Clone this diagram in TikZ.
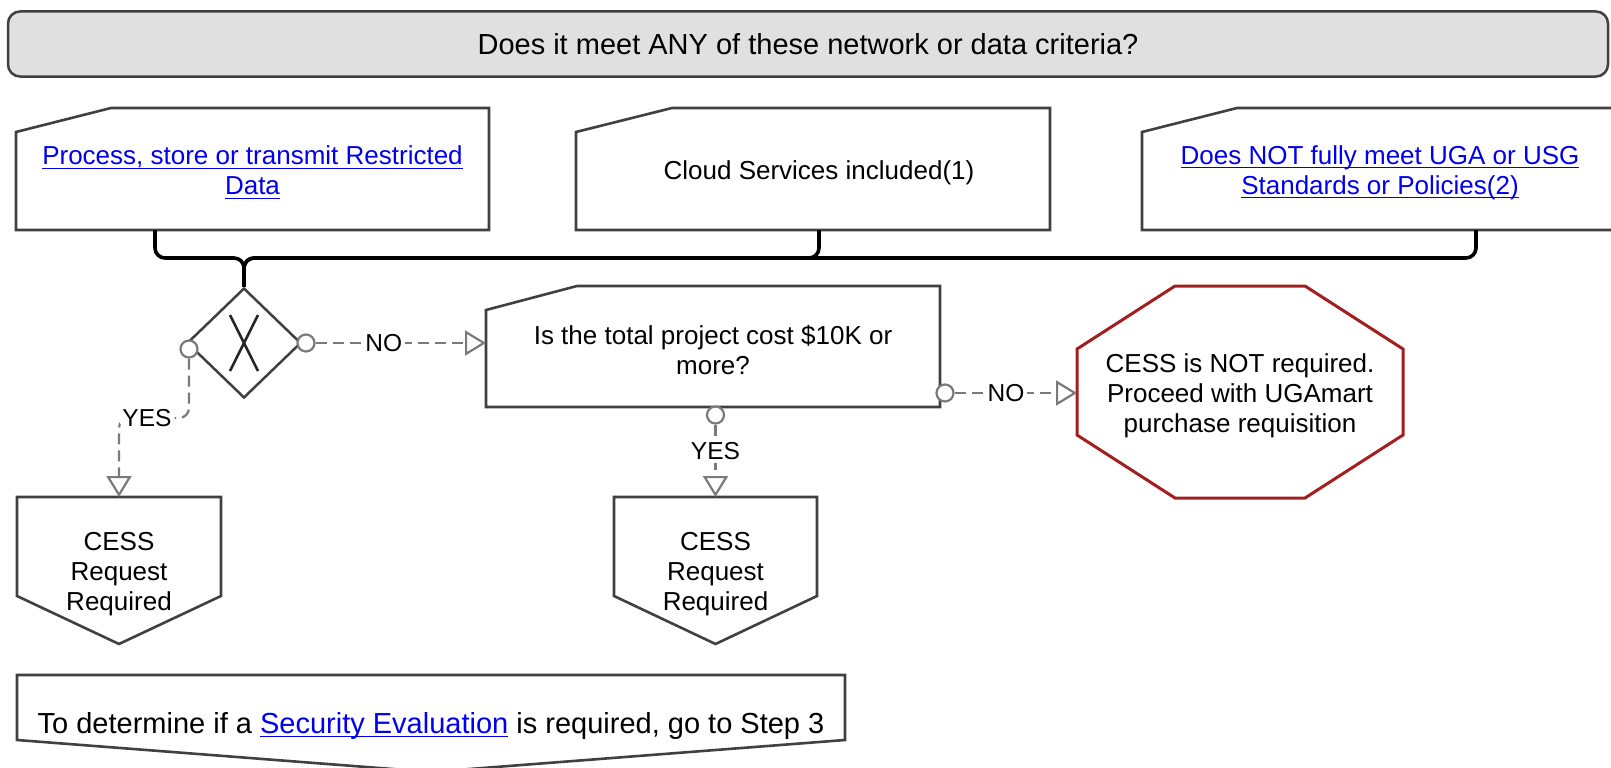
\documentclass[tikz,border=0pt]{standalone}
\usepackage{fontspec}
\setmainfont{Liberation Sans}
\usetikzlibrary{arrows.meta,shapes.geometric,calc}
\definecolor{bordergray}{HTML}{404040}
\definecolor{conngray}{HTML}{7A7A7A}
\definecolor{hdrgray}{HTML}{E0E0E0}
\definecolor{octred}{HTML}{A31F1F}
\definecolor{linkblue}{HTML}{0000EE}
\newcommand\myhdrfont{\fontsize{29}{34}\selectfont}
\newcommand\myboxfont{\fontsize{26}{30}\selectfont}
\newcommand\mylblfont{\fontsize{24.5}{28}\selectfont}
\newsavebox\lnkbox
\newcommand\lnk[1]{{\color{linkblue}\sbox\lnkbox{#1}\rlap{\rule[-4pt]{\wd\lnkbox}{1.3pt}}\usebox\lnkbox}}
\tikzset{
  boxline/.style={draw=bordergray, line width=2.6pt, line join=miter},
  txt/.style={rectangle, align=center, inner sep=0pt, outer sep=0pt, font=\myboxfont, text=black},
  tshift/.style={yshift=-3.5pt},
  hdrbox/.style={rectangle, rounded corners=12pt, draw=bordergray, fill=hdrgray, line width=2.5pt,
     minimum width=1600pt, minimum height=65pt, inner sep=0pt, font=\myhdrfont},
  bracket/.style={draw=black, line width=3.6pt, rounded corners=10pt},
  conn/.style={draw=conngray, line width=2.2pt, dash pattern=on 11pt off 6pt},
  tip/.style={-{Triangle[open, length=21pt, width=25pt]}},
  port/.style={circle, draw=conngray, fill=white, line width=2.2pt, minimum size=17pt, inner sep=0pt},
  lbl/.style={fill=white, font=\mylblfont, inner sep=3pt, text=black},
  gate/.style={diamond, draw=bordergray, line width=2.5pt, minimum width=114pt, minimum height=110pt, inner sep=0pt},
}
\begin{document}
\begin{tikzpicture}[x=1pt,y=-1pt]
\useasboundingbox (0,0) rectangle (1611,768);
\clip (0,0) rectangle (1611,768);

% header
\node[hdrbox] (hdr) at (808,44) {Does it meet ANY of these network or data criteria?};

% criteria boxes
\draw[boxline] (16,132) -- (111,108) -- (489,108) -- (489,230) -- (16,230) -- cycle;
\node[txt, minimum width=473pt, minimum height=122pt] (b1) at (252.5,169) {};
\node[txt, tshift] (b1t) at (b1.center)
  {\lnk{Process, store or transmit Restricted}\\\lnk{Data}};
\draw[boxline] (576,132) -- (672,108) -- (1050,108) -- (1050,230) -- (576,230) -- cycle;
\node[txt, minimum width=474pt, minimum height=122pt] (b2) at (813,169) {};
\node[txt, tshift] (b2t) at (819,169) {Cloud Services included(1)};
\draw[boxline] (1142,132) -- (1237,108) -- (1618,108) -- (1618,230) -- (1142,230) -- cycle;
\node[txt, minimum width=476pt, minimum height=122pt] (b3) at (1380,169) {};
\node[txt, tshift] (b3t) at (b3.center)
  {\lnk{Does NOT fully meet UGA or USG}\\\lnk{Standards or Policies(2)}};

% gateway
\node[gate] (dia) at (244,343) {};
\draw[draw=black!85, line width=2.5pt] ($(dia.center)+(-14,-28)$) -- ($(dia.center)+(14,28)$);
\draw[draw=black!85, line width=2.5pt] ($(dia.center)+(14,-28)$) -- ($(dia.center)+(-14,28)$);

% bracket
\coordinate (jn) at (244,258);
\draw[bracket] ([xshift=139pt]b1.south west) |- (jn) -- (dia.north);
\draw[bracket] (b2t.center |- b2.south) |- (jn) -- (dia.north);
\draw[bracket] ([xshift=334pt]b3.south west) |- (jn) -- (dia.north);

% cost question
\draw[boxline] (486,310) -- (577,286) -- (940,286) -- (940,407) -- (486,407) -- cycle;
\node[txt, minimum width=454pt, minimum height=121pt] (q) at (713,346.5) {};
\node[txt, tshift] (qt) at (q.center) {Is the total project cost \$10K or\\more?};

% stop octagon
\draw[draw=octred, line width=3pt, line join=miter] (1175,286) -- (1305,286) -- (1403,349) -- (1403,435)
  -- (1305,498) -- (1175,498) -- (1077,435) -- (1077,349) -- cycle;
\node[txt, minimum width=326pt, minimum height=212pt] (oct) at (1240,392) {};
\node[txt, tshift] (octt) at (oct.center)
  {CESS is NOT required.\\Proceed with UGAmart\\purchase requisition};

% CESS request boxes
\draw[boxline] (17,497) -- (221,497) -- (221,596) -- (119,644) -- (17,596) -- cycle;
\node[txt, minimum width=204pt, minimum height=147pt] (b4) at (119,570.5) {};
\node[txt, tshift] (b4t) at (b4.center) {CESS\\Request\\Required};
\draw[boxline] (614,497) -- (817,497) -- (817,596) -- (715.5,644) -- (614,596) -- cycle;
\node[txt, minimum width=203pt, minimum height=147pt] (b5) at (715.5,570.5) {};
\node[txt, tshift] (b5t) at (b5.center) {CESS\\Request\\Required};

% bottom box
\draw[boxline] (17,675) -- (845,675) -- (845,740) -- (431,772) -- (17,740) -- cycle;
\node[txt, tshift, font=\myhdrfont] (b6) at (431,722)
  {To determine if a \lnk{Security Evaluation} is required, go to Step 3};

% ports
\node[port] (p1) at (189,349) {};
\node[port] (p2) at (306,343) {};
\node[port] (p3) at (945,393) {};
\node[port] (p4) at (715.5,415) {};

% connectors
\coordinate (yl) at (119,418);
\draw[conn, tip, rounded corners=10pt] (p1) |- node[lbl, pos=0.8] {YES} (yl) -- (b4.north);
\draw[conn, tip] (p2) -- node[lbl, pos=0.4] {NO} (p2 -| q.west);
\draw[conn, tip] (p3) -- node[lbl, pos=0.42] {NO} (p3 -| oct.west);
\draw[conn, tip] (p4) -- node[lbl, pos=0.37] {YES} (b5.north);
\end{tikzpicture}
\end{document}
